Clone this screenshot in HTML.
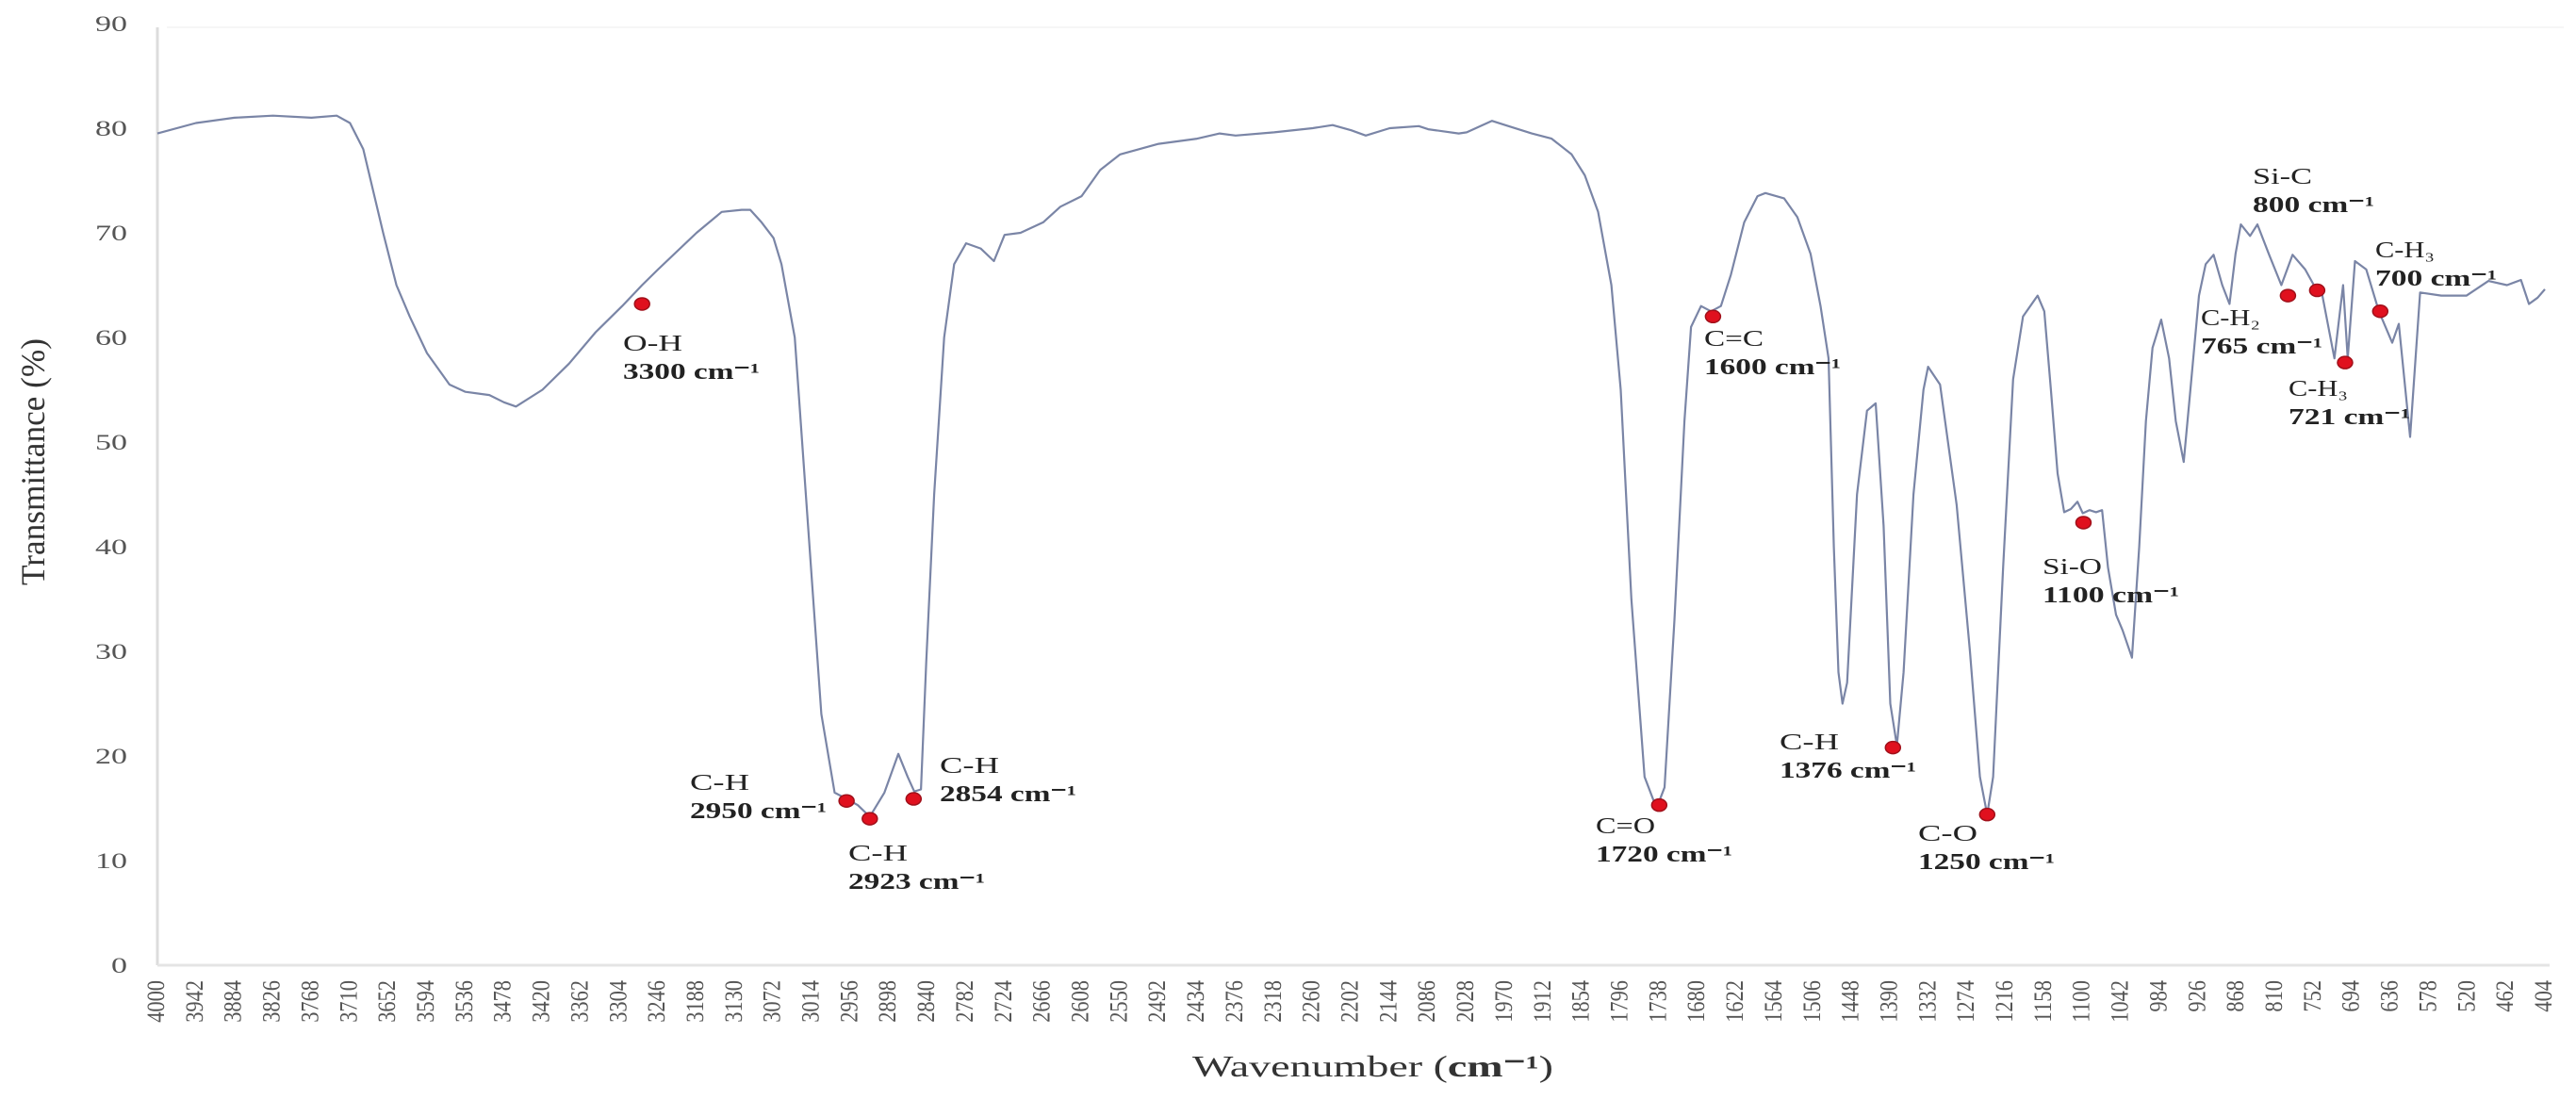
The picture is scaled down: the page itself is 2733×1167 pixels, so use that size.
<!DOCTYPE html>
<html><head><meta charset="utf-8"><title>FTIR spectrum</title>
<style>
html,body{margin:0;padding:0;background:#fff;}
svg{display:block;}
</style></head>
<body>
<svg id="chart" xmlns="http://www.w3.org/2000/svg" width="2733" height="1167" viewBox="0 0 2733 1167">
  <rect x="0" y="0" width="2733" height="1167" fill="#fff"/>
  <g id="axes"></g>
  <g id="ticks"></g>
  <g id="series"></g>
  <g id="annot"></g>
  <text transform="translate(47,490) rotate(-90)" text-anchor="middle" font-family="Liberation Serif, serif" font-size="36" fill="#333" textLength="262" lengthAdjust="spacingAndGlyphs">Transmittance (%)</text>
  <text x="1265" y="1142" font-family="Liberation Serif, serif" font-size="32" fill="#333" textLength="383" lengthAdjust="spacingAndGlyphs">Wavenumber (<tspan font-weight="bold">cm⁻¹</tspan>)</text>
</svg>
<script>
// ---- data ----
const wavenumbers = [4000,3942,3884,3826,3768,3730,3710,3690,3660,3640,3620,3594,3560,3536,3500,3478,3460,3420,3380,3340,3300,3270,3246,3188,3150,3120,3107,3090,3072,3060,3040,3020,3000,2980,2962,2945,2927,2905,2884,2870,2860,2850,2842,2830,2815,2800,2782,2760,2740,2724,2700,2666,2640,2608,2580,2550,2492,2434,2400,2376,2318,2260,2230,2202,2180,2144,2100,2086,2040,2028,1990,1970,1930,1900,1870,1850,1830,1810,1796,1780,1760,1742,1730,1715,1700,1690,1675,1660,1645,1630,1610,1590,1578,1550,1530,1510,1495,1483,1475,1468,1462,1455,1440,1425,1412,1400,1390,1380,1370,1355,1340,1333,1315,1290,1270,1255,1244,1235,1220,1205,1190,1168,1158,1148,1138,1128,1118,1108,1100,1090,1080,1071,1062,1050,1040,1026,1015,1005,995,982,970,960,948,938,925,915,903,890,879,870,862,848,837,820,801,784,765,752,740,721,708,701,690,673,654,634,624,607,592,560,522,489,461,440,428,415,404];
const transmittance = [79.5,80.5,81,81.2,81,81.2,80.5,78,70,65,62,58.5,55.5,54.8,54.5,53.8,53.4,55,57.5,60.5,63,65,66.5,70,72,72.2,72.2,71,69.5,67,60,42,24,16.5,15.9,15.3,14.2,16.5,20.2,18,16.6,16.8,29,45,60,67,69,68.5,67.3,69.8,70,71,72.5,73.5,76,77.5,78.5,79,79.5,79.3,79.6,80,80.3,79.8,79.3,80,80.2,79.9,79.5,79.6,80.7,80.3,79.5,79,77.5,75.5,72,65,55,35,18,15,17,33,52,61,63,62.5,63,66,71,73.5,73.8,73.3,71.5,68,63,58,40,28,25,27,45,53,53.7,42,25,21,28,45,55,57.2,55.5,44,30,18,14.4,18,38,56,62,64,62.5,55,47,43.3,43.6,44.3,43.2,43.5,43.3,43.5,38,33.5,32,29.4,40,52,59,61.7,58,52,48.1,55,64,67,67.9,65,63.2,68,70.8,69.7,70.8,68,65,67.9,66.5,65,64.3,58,65,58,67.3,66.5,62.5,59.5,61.3,50.5,64.3,64,64,65.4,65,65.5,63.2,63.8,64.6];
const yTickValues = [0,10,20,30,40,50,60,70,80,90];
const xTickValues = [4000,3942,3884,3826,3768,3710,3652,3594,3536,3478,3420,3362,3304,3246,3188,3130,3072,3014,2956,2898,2840,2782,2724,2666,2608,2550,2492,2434,2376,2318,2260,2202,2144,2086,2028,1970,1912,1854,1796,1738,1680,1622,1564,1506,1448,1390,1332,1274,1216,1158,1100,1042,984,926,868,810,752,694,636,578,520,462,404];
const peakWavenumbers = [3270,2962,2927,2861,1738,1657,1386,1244,1099,791,747,705,652];
const peakTransmittance = [63.2,15.7,14.0,15.9,15.3,62.0,20.8,14.4,42.3,64.0,64.5,57.6,62.5];

// ---- axis functions ----
const X0 = 167, X1 = 2700, WN0 = 4000, WN1 = 404;
const Y0 = 1024, PX_PER_UNIT = 11.1;
function xScale(wn){ return X0 + (WN0 - wn) / (WN0 - WN1) * (X1 - X0); }
function yScale(t){ return Y0 - t * PX_PER_UNIT; }

const NS = "http://www.w3.org/2000/svg";
function mk(tag, attrs, parent){
  const el = document.createElementNS(NS, tag);
  for (const k in attrs) el.setAttribute(k, attrs[k]);
  parent.appendChild(el);
  return el;
}
const axes = document.getElementById('axes');
const ticks = document.getElementById('ticks');
const series = document.getElementById('series');
const annot = document.getElementById('annot');

// axis lines
const yAxisLine = mk('line', {x1:X0, y1:yScale(90)+4, x2:X0, y2:Y0, stroke:'#dcdcdc', 'stroke-width':3}, axes);


const xAxisLine = mk('line', {x1:X0, y1:Y0, x2:X1+5, y2:Y0, stroke:'#e4e4e4', 'stroke-width':3}, axes);


const topLine = mk('line', {x1:X0+10, y1:yScale(90)+4, x2:X1+20, y2:yScale(90)+4, stroke:'#f6f6f6', 'stroke-width':2}, axes);



// y tick labels
yTickValues.forEach(v => {
  const s = String(v);
  const t = mk('text', {x:135, y:yScale(v)+8, 'text-anchor':'end', 'font-family':'Liberation Serif, serif', 'font-size':23, fill:'#555', textLength: s.length*17, lengthAdjust:'spacingAndGlyphs'}, ticks);
  t.textContent = s;
  
  
});
// x tick labels (rotated)
xTickValues.forEach(v => {
  const s = String(v);
  const x = xScale(v) + 7;
  const t = mk('text', {transform:'translate(' + x + ',1040) rotate(-90)', 'text-anchor':'end', 'font-family':'Liberation Serif, serif', 'font-size':26, fill:'#555', textLength: s.length*11.2, lengthAdjust:'spacingAndGlyphs'}, ticks);
  t.textContent = s;
  
  
});

// spectrum line
let d = '';
wavenumbers.forEach((wn, i) => {
  d += (i ? 'L' : 'M') + xScale(wn).toFixed(1) + ',' + yScale(transmittance[i]).toFixed(1);
});
const path = mk('path', {d:d, fill:'none', stroke:'#7a85a6', 'stroke-width':2.2, 'stroke-linejoin':'round'}, series);



// peak markers
peakWavenumbers.forEach((wn, i) => {
  const c = mk('ellipse', {cx:xScale(wn), cy:yScale(peakTransmittance[i]), rx:8, ry:6.5, fill:'#e0101e', stroke:'#a0101a', 'stroke-width':1.5}, series);
  
  
});

// annotation labels: [name, wn text, left x, top-line baseline]
const labelNames = ['O-H','C-H','C-H','C-H','C=O','C=C','C-H','C-O','Si-O','Si-C','C-H₂','C-H₃','C-H₃'];
const labelNums = ['3300','2950','2923','2854','1720','1600','1376','1250','1100','800','765','721','700'];
const labelX = [661,732,900,997,1693,1808,1888,2035,2167,2390,2335,2428,2520];
const labelY = [372,838,913,820,884,367,795,892,609,195,345,420,273];
labelNames.forEach((nm, i) => {
  const t1 = mk('text', {x:labelX[i], y:labelY[i], 'font-family':'Liberation Serif, serif', 'font-size':24, fill:'#222', textLength:63, lengthAdjust:'spacingAndGlyphs'}, annot);
  t1.textContent = nm;
  
  
  const num = labelNums[i];
  const t2 = mk('text', {x:labelX[i], y:labelY[i]+30, 'font-family':'Liberation Serif, serif', 'font-size':24, 'font-weight':'bold', fill:'#222', textLength: num.length===4 ? 145 : 129, lengthAdjust:'spacingAndGlyphs'}, annot);
  t2.textContent = num + ' cm⁻¹';
  
  
});
</script>
</body></html>
